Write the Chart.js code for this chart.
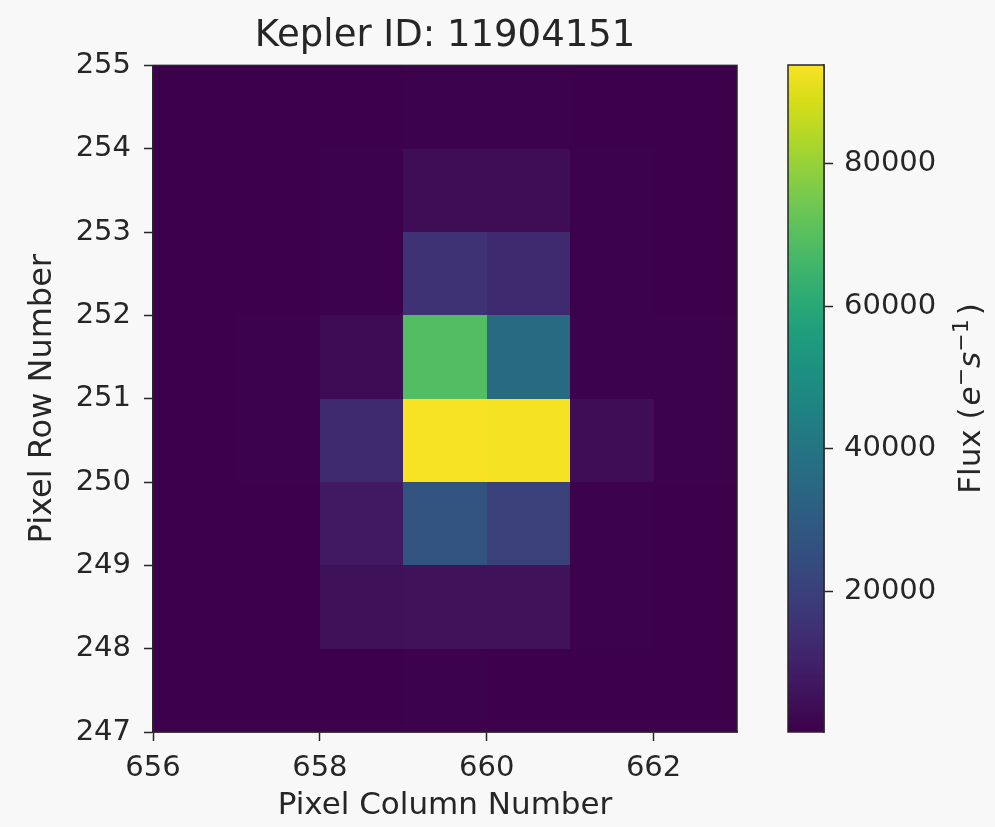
<!DOCTYPE html>
<html>
<head>
<meta charset="utf-8">
<script src="https://cdn.jsdelivr.net/npm/chart.js@4.4.1/dist/chart.umd.min.js"></script>
<style>
  html, body { margin: 0; padding: 0; background: #f8f8f8; }
  #wrap { position: relative; width: 995px; height: 827px; overflow: hidden; }
  #main { position: absolute; left: 0; top: 0; width: 890px; height: 827px; }
  #cbar { position: absolute; left: 760px; top: 0; width: 235px; height: 827px; }
</style>
</head>
<body>
<div id="wrap">
  <div id="main"><canvas id="heat"></canvas></div>
  <div id="cbar"><canvas id="scale"></canvas></div>
</div>
<script>
// ---------------- data ----------------
const chartTitle = 'Kepler ID: 11904151';
const xAxisLabel = 'Pixel Column Number';
const yAxisLabel = 'Pixel Row Number';
const columns = [656, 657, 658, 659, 660, 661, 662];          // pixel column (left edge of cell)
const rows = [247, 248, 249, 250, 251, 252, 253, 254];        // pixel row (bottom edge of cell)
// flux per cell, one list per row (row 247 first), one value per column
const fluxRow247 = [310, 340, 450, 520, 480, 390, 320];
const fluxRow248 = [380, 420, 5000, 5300, 5200, 600, 420];
const fluxRow249 = [420, 480, 7600, 27000, 20000, 700, 480];
const fluxRow250 = [450, 520, 13000, 93800, 93200, 3900, 560];
const fluxRow251 = [430, 500, 3600, 69000, 36000, 700, 500];
const fluxRow252 = [400, 460, 700, 15000, 13000, 600, 450];
const fluxRow253 = [360, 400, 550, 3800, 3900, 500, 400];
const fluxRow254 = [330, 360, 450, 600, 580, 420, 350];
const flux = [fluxRow247, fluxRow248, fluxRow249, fluxRow250, fluxRow251, fluxRow252, fluxRow253, fluxRow254];
const xTicks = [656, 658, 660, 662];
const yTicks = [247, 248, 249, 250, 251, 252, 253, 254, 255];
const cbTicks = [20000, 40000, 60000, 80000];

// ---------------- style ----------------
const FONT = "'DejaVu Sans', 'Liberation Sans', sans-serif";
const INK = '#262626';
const viridisStops = ['#440154','#471365','#482475','#463480','#414487','#3b528b','#355f8d','#2f6c8e','#2a788e','#25848e','#21918c','#1e9c89','#22a884','#2fb47c','#44bf70','#5ec962','#7ad151','#9bd93c','#bddf26','#dfe318','#fde725'];
function hexToRgb(h){ return [parseInt(h.slice(1,3),16), parseInt(h.slice(3,5),16), parseInt(h.slice(5,7),16)]; }
const viridisRgb = viridisStops.map(hexToRgb);
function viridis(t){
  t = Math.max(0, Math.min(1, t));
  const n = viridisRgb.length - 1;
  const p = t * n, i = Math.min(n - 1, Math.floor(p)), f = p - i;
  const a = viridisRgb[i], b = viridisRgb[i + 1];
  const shade = 0.88 + 0.1 * t;   // slightly muted, as in the reference capture
  return 'rgb(' + [0,1,2].map(k => Math.round((a[k] + (b[k] - a[k]) * f) * shade)).join(',') + ')';
}
const allFlux = flux.flat();
const vmin = Math.min(...allFlux);
const vmax = Math.max(...allFlux);

// cell centres as the scatter data set (drawn as cells by the plugin below)
const cellPoints = [];
rows.forEach((r, i) => columns.forEach((c, j) => cellPoints.push({ x: c + 0.5, y: r + 0.5, v: flux[i][j] })));

const heatmapPlugin = {
  id: 'heatmapCells',
  beforeDatasetsDraw(chart) {
    const { ctx, scales: { x, y } } = chart;
    ctx.save();
    rows.forEach((r, i) => columns.forEach((c, j) => {
      const x0 = Math.round(x.getPixelForValue(c)), x1 = Math.round(x.getPixelForValue(c + 1));
      const y0 = Math.round(y.getPixelForValue(r + 1)), y1 = Math.round(y.getPixelForValue(r));
      ctx.fillStyle = viridis((flux[i][j] - vmin) / (vmax - vmin));
      ctx.fillRect(x0, y0, x1 - x0, y1 - y0);
    }));
    ctx.restore();
  }
};
const framePlugin = {
  id: 'frame',
  afterDraw(chart) {
    const { ctx, chartArea: a } = chart;
    ctx.save();
    ctx.strokeStyle = INK;
    ctx.lineWidth = 1.5;
    ctx.strokeRect(a.left, a.top, a.right - a.left, a.bottom - a.top);
    ctx.restore();
  }
};

const tickGrid = { drawOnChartArea: false, drawTicks: true, tickLength: 9, tickWidth: 1.5, tickColor: INK };
const tickFont = { family: FONT, size: 29 };

new Chart(document.getElementById('heat'), {
  type: 'scatter',
  data: { datasets: [{ label: 'Flux', data: cellPoints, pointRadius: 0, pointHoverRadius: 0 }] },
  options: {
    responsive: true, maintainAspectRatio: false, animation: false, events: [],
    layout: { padding: { left: 0, right: 153, top: 0, bottom: 0 } },
    plugins: {
      legend: { display: false }, tooltip: { enabled: false },
      title: { display: true, fullSize: false, text: chartTitle, color: INK, font: { family: FONT, size: 37, weight: 'normal' }, padding: { top: 14, bottom: 7 } }
    },
    scales: {
      x: {
        type: 'linear', min: columns[0], max: columns[columns.length - 1] + 1,
        afterBuildTicks: s => { s.ticks = xTicks.map(v => ({ value: v })); },
        afterFit: s => { s.height = 95; },
        grid: tickGrid, border: { display: true, color: INK, width: 1.5 },
        ticks: { font: tickFont, color: INK, padding: 10, maxRotation: 0, autoSkip: false, callback: v => String(v) },
        title: { display: true, text: xAxisLabel, color: INK, font: { family: FONT, size: 31 }, padding: { top: 0, bottom: 2 } }
      },
      y: {
        type: 'linear', min: rows[0], max: rows[rows.length - 1] + 1,
        afterBuildTicks: s => { s.ticks = yTicks.map(v => ({ value: v })); },
        afterFit: s => { s.width = 153; },
        grid: tickGrid, border: { display: true, color: INK, width: 1.5 },
        ticks: { font: tickFont, color: INK, padding: 13, autoSkip: false, callback: v => String(v) },
        title: { display: true, text: yAxisLabel, color: INK, font: { family: FONT, size: 32 }, padding: { top: 23, bottom: 0 } }
      }
    }
  },
  plugins: [heatmapPlugin, framePlugin]
});

// ---------------- colour bar ----------------
const cbLabelParts = [
  { t: 'Flux (', italic: false, size: 31, rise: 0 },
  { t: 'e', italic: true, size: 31, rise: 0 },
  { t: '\u2212', italic: false, size: 22, rise: 12 },
  { t: 's', italic: true, size: 31, rise: 0 },
  { t: '\u22121', italic: false, size: 22, rise: 12 },
  { t: ')', italic: false, size: 31, rise: 0 }
];
const gradientPlugin = {
  id: 'cbGradient',
  beforeDatasetsDraw(chart) {
    const { ctx, chartArea: a, scales: { y } } = chart;
    ctx.save();
    for (let py = Math.floor(a.top); py < Math.ceil(a.bottom); py++) {
      const v = y.getValueForPixel(py + 0.5);
      ctx.fillStyle = viridis((v - vmin) / (vmax - vmin));
      ctx.fillRect(a.left, py, a.right - a.left, 1);
    }
    ctx.restore();
  },
  afterDraw(chart) {
    const { ctx, chartArea: a } = chart;
    ctx.save();
    ctx.strokeStyle = INK; ctx.lineWidth = 1.5;
    ctx.strokeRect(a.left, a.top, a.right - a.left, a.bottom - a.top);
    const fontOf = p => (p.italic ? 'italic ' : '') + p.size + 'px ' + FONT;
    let total = 0;
    cbLabelParts.forEach(p => { ctx.font = fontOf(p); p.w = ctx.measureText(p.t).width; total += p.w; });
    total += 6;
    ctx.translate(980 - 760, (a.top + a.bottom) / 2);
    ctx.rotate(-Math.PI / 2);
    ctx.fillStyle = INK; ctx.textBaseline = 'alphabetic'; ctx.textAlign = 'left';
    let cx = -total / 2;
    cbLabelParts.forEach((p, k) => { ctx.font = fontOf(p); ctx.fillText(p.t, cx, -p.rise); cx += p.w + (k === 0 ? 2 : 0) + (k === 4 ? 4 : 0); });
    ctx.restore();
  }
};

new Chart(document.getElementById('scale'), {
  type: 'scatter',
  data: { datasets: [] },
  options: {
    responsive: true, maintainAspectRatio: false, animation: false, events: [],
    layout: { padding: { left: 28, right: 0, top: 65, bottom: 95 } },
    plugins: { legend: { display: false }, tooltip: { enabled: false } },
    scales: {
      x: { type: 'linear', display: false },
      y: {
        type: 'linear', position: 'right', min: vmin, max: vmax,
        afterBuildTicks: s => { s.ticks = cbTicks.map(v => ({ value: v })); },
        afterFit: s => { s.width = 171; },
        grid: tickGrid, border: { display: true, color: INK, width: 1.5 },
        ticks: { font: tickFont, color: INK, padding: 11, autoSkip: false, callback: v => String(v) }
      }
    }
  },
  plugins: [gradientPlugin]
});
</script>
</body>
</html>
